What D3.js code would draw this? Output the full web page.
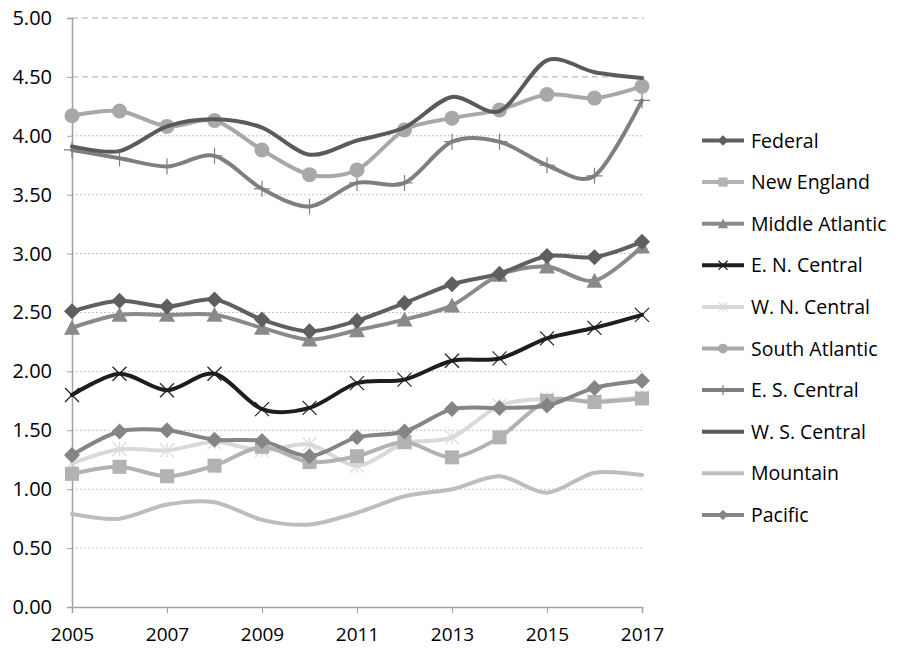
<!DOCTYPE html>
<html>
<head>
<meta charset="utf-8">
<script src="https://cdn.jsdelivr.net/npm/d3@7"></script>
<style>
  body { margin: 0; background: #fff; }
  text { font-family: "Open Sans", sans-serif; fill: #000; }
</style>
</head>
<body>
<script>
// years along the bottom
const years = [2005, 2006, 2007, 2008, 2009, 2010, 2011, 2012, 2013, 2014, 2015, 2016, 2017];
const yearTicks = [2005, 2007, 2009, 2011, 2013, 2015, 2017];
const valueTicks = [0, 0.5, 1, 1.5, 2, 2.5, 3, 3.5, 4, 4.5, 5];

// series names in legend order
const names = ["Federal", "New England", "Middle Atlantic", "E. N. Central", "W. N. Central",
  "South Atlantic", "E. S. Central", "W. S. Central", "Mountain", "Pacific"];

// values
const federal  = [2.51, 2.60, 2.55, 2.61, 2.44, 2.34, 2.43, 2.58, 2.74, 2.83, 2.98, 2.97, 3.10];
const newEng   = [1.13, 1.19, 1.11, 1.20, 1.36, 1.23, 1.28, 1.40, 1.27, 1.44, 1.75, 1.74, 1.77];
const midAtl   = [2.37, 2.48, 2.48, 2.48, 2.37, 2.27, 2.35, 2.44, 2.56, 2.82, 2.89, 2.77, 3.06];
const enCent   = [1.80, 1.98, 1.84, 1.98, 1.68, 1.69, 1.90, 1.93, 2.09, 2.11, 2.28, 2.37, 2.48];
const wnCent   = [1.22, 1.34, 1.33, 1.40, 1.33, 1.38, 1.20, 1.39, 1.44, 1.71, 1.77, 1.75, 1.78];
const southAtl = [4.17, 4.21, 4.08, 4.13, 3.88, 3.67, 3.71, 4.05, 4.15, 4.22, 4.35, 4.32, 4.42];
const esCent   = [3.88, 3.81, 3.74, 3.83, 3.55, 3.40, 3.60, 3.60, 3.95, 3.95, 3.75, 3.66, 4.30];
const wsCent   = [3.91, 3.87, 4.08, 4.14, 4.07, 3.84, 3.96, 4.07, 4.33, 4.21, 4.64, 4.54, 4.49];
const mountain = [0.79, 0.75, 0.87, 0.89, 0.74, 0.70, 0.80, 0.94, 1.00, 1.11, 0.97, 1.14, 1.12];
const pacific  = [1.29, 1.49, 1.50, 1.42, 1.41, 1.28, 1.44, 1.49, 1.68, 1.69, 1.71, 1.86, 1.92];

const seriesVals = [federal, newEng, midAtl, enCent, wnCent, southAtl, esCent, wsCent, mountain, pacific];
const colors = ["#5f5f5f", "#b2b2b2", "#8a8a8a", "#1e1e1e", "#d9d9d9",
  "#a8a8a8", "#7f7f7f", "#5a5a5a", "#bdbdbd", "#858585"];
const markers = ["diamond", "square", "triangle", "x", "star", "circle", "plus", "none", "none", "diamond"];

// drawing order: back to front (roughly as in the picture)
const drawOrder = [8, 4, 1, 9, 6, 5, 7, 2, 0, 3];

const W = 898, H = 648;
const svg = d3.select("body").append("svg")
  .attr("width", W)
  .attr("height", H);

const x = d3.scaleLinear().domain([2005, 2017]).range([72, 642]);
const y = d3.scaleLinear().domain([0, 5]).range([607, 18]);

// gridlines: top two dashed, others dotted
svg.append("g").selectAll("line")
  .data(valueTicks.filter(d => d > 0))
  .join("line")
  .attr("x1", 72).attr("x2", 644)
  .attr("y1", d => y(d)).attr("y2", d => y(d))
  .attr("stroke", d => d >= 4.5 ? "#a6a6a6" : "#c4c4c4")
  .attr("stroke-width", 1)
  .attr("stroke-dasharray", d => d >= 4.5 ? "6,4" : "2,2");

// y axis
const yAxis = svg.append("g")
  .attr("transform", "translate(72,0)")
  .call(d3.axisLeft(y).tickValues(valueTicks).tickFormat(d3.format(".2f")).tickSizeOuter(0).tickSize(5).tickPadding(15));
yAxis.select(".domain").attr("stroke", "#a0a0a0").attr("stroke-width", 1.5);
yAxis.selectAll(".tick line").attr("stroke", "#a0a0a0");
yAxis.selectAll("text").style("font-size", "20px").attr("fill", "#000");

// x axis
const xAxis = svg.append("g")
  .attr("transform", "translate(0,607)")
  .call(d3.axisBottom(x).tickValues(yearTicks).tickFormat(d3.format("d")).tickSizeOuter(0).tickSize(6));
xAxis.select(".domain").attr("stroke", "#a0a0a0").attr("stroke-width", 1.5);
xAxis.selectAll(".tick line").attr("stroke", "#a0a0a0");
xAxis.selectAll("text").style("font-size", "19px").attr("fill", "#000")
  .attr("y", 34).attr("dy", 0);

// marker drawing helper
function drawMarker(g, type, cx, cy, color, s) {
  if (type === "diamond") {
    const r = 8 * s;
    g.append("path").attr("d", `M${cx},${cy - r}L${cx + r},${cy}L${cx},${cy + r}L${cx - r},${cy}Z`)
      .attr("fill", color);
  } else if (type === "square") {
    g.append("rect").attr("x", cx - 7 * s).attr("y", cy - 7 * s)
      .attr("width", 14 * s).attr("height", 14 * s).attr("fill", color);
  } else if (type === "triangle") {
    g.append("path").attr("d", `M${cx},${cy - 8 * s}L${cx + 8 * s},${cy + 7 * s}L${cx - 8 * s},${cy + 7 * s}Z`)
      .attr("fill", color);
  } else if (type === "circle") {
    g.append("circle").attr("cx", cx).attr("cy", cy).attr("r", 7.5 * s).attr("fill", color);
  } else if (type === "x") {
    const r = 7 * s;
    g.append("path").attr("d", `M${cx - r},${cy - r}L${cx + r},${cy + r}M${cx - r},${cy + r}L${cx + r},${cy - r}`)
      .attr("stroke", color).attr("stroke-width", 1.2).attr("fill", "none");
  } else if (type === "star") {
    const r = 7 * s;
    g.append("path").attr("d", `M${cx - r},${cy - r}L${cx + r},${cy + r}M${cx - r},${cy + r}L${cx + r},${cy - r}M${cx},${cy - r}L${cx},${cy + r}`)
      .attr("stroke", color).attr("stroke-width", 1.2).attr("fill", "none");
  } else if (type === "plus") {
    const r = 8 * s;
    g.append("path").attr("d", `M${cx - r},${cy}L${cx + r},${cy}M${cx},${cy - r}L${cx},${cy + r}`)
      .attr("stroke", color).attr("stroke-width", 1.2).attr("fill", "none");
  }
}

const line = d3.line()
  .x((d, i) => x(years[i]))
  .y(d => y(d))
  .curve(d3.curveCardinal.tension(0.1));

const plot = svg.append("g");
drawOrder.forEach(k => {
  const g = plot.append("g");
  g.append("path")
    .attr("d", line(seriesVals[k]))
    .attr("fill", "none")
    .attr("stroke", colors[k])
    .attr("stroke-width", 4)
    .attr("stroke-linejoin", "round")
    .attr("stroke-linecap", "round");
  seriesVals[k].forEach((v, i) => drawMarker(g, markers[k], x(years[i]), y(v), colors[k], 1));
});

// legend
const legend = svg.append("g");
names.forEach((n, k) => {
  const ly = 140.5 + k * 41.6;
  const g = legend.append("g");
  g.append("line").attr("x1", 702).attr("x2", 744).attr("y1", ly).attr("y2", ly)
    .attr("stroke", colors[k]).attr("stroke-width", 4);
  drawMarker(g, markers[k], 723, ly, colors[k], 0.65);
  g.append("text").attr("x", 751).attr("y", ly).attr("dy", "0.36em")
    .style("font-size", "19.5px").text(n);
});
</script>
</body>
</html>
